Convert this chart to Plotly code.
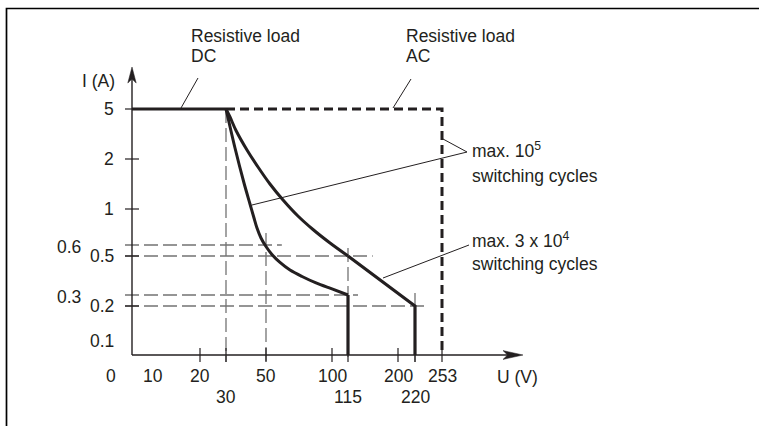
import numpy as np
import plotly.graph_objects as go

# ---------------- data (values in volts / amperes) ----------------
X_TICK_U = [20, 30, 50, 100, 115, 200, 220, 253]
X_LABEL_ROW1 = [10, 20, 50, 100, 200, 253]
X_LABEL_ROW2 = [30, 115, 220]
Y_TICK_I = [0.2, 0.5, 1, 2, 5]
Y_LABEL_MAIN = [0.1, 0.2, 0.5, 1, 2, 5]
Y_LABEL_SIDE = [0.3, 0.6]

DC_U = [0, 30]
DC_I = [5, 5]
AC_U = [30, 253, 253]
AC_I = [5, 5, 0]

# max. 10^5 switching cycles (inner curve)
C1_U = [30, 34.5, 39, 42, 44, 45.5, 47.5, 50, 54.5, 60.6, 68.2, 77.3, 87.9, 100, 115]
C1_I = [5, 2.66, 1.52, 1.1, 0.9, 0.789, 0.678, 0.586, 0.514, 0.467, 0.428, 0.395, 0.362, 0.331, 0.3]
C1_DROP_U = [115, 115]
C1_DROP_I = [0.3, 0]

# max. 3 x 10^4 switching cycles (outer curve)
C2_U = [30, 32, 35, 40.5, 46, 53, 62.9, 74.2, 85.6, 98.5, 115]
C2_I = [5, 4.52, 3.71, 2.54, 1.84, 1.5, 1.18, 0.922, 0.772, 0.622, 0.5]
C2_TAIL_U = [115, 220, 220]
C2_TAIL_I = [0.5, 0.2, 0]

# guide lines
GUIDE_H_I = [0.6, 0.5, 0.3, 0.2]
GUIDE_H_END_U = [62, 157, 132, 236]
GUIDE_V_U = [30, 50, 115, 220]
GUIDE_V_TOP_I = [5, 0.733, 0.573, 0.31]

# ---------------- schematic (non-linear) scale of the drawing ----------------
X_ANCHOR_U = [0, 10, 20, 30, 50, 100, 115, 200, 220, 253]
X_ANCHOR_PX = [132, 153, 200, 226, 266, 332, 348, 398, 415, 442]
Y_ANCHOR_I = [0, 0.1, 0.2, 0.3, 0.5, 0.6, 1, 2, 5]
Y_ANCHOR_PX = [355, 341, 306, 295, 256, 245, 209, 159, 109]


def sx(u):
    return np.interp(u, X_ANCHOR_U, X_ANCHOR_PX)


def sy(i):
    return np.interp(i, Y_ANCHOR_I, Y_ANCHOR_PX)


INK = "#231f20"
GRAY = "#737373"
FONT = dict(family="Liberation Sans, Arial, sans-serif", size=17.5, color=INK)
TICK = 7

fig = go.Figure()


def line(xs, ys, color=INK, width=1.2, dash=None, shape="linear"):
    fig.add_trace(go.Scatter(
        x=list(xs), y=list(ys), mode="lines",
        line=dict(color=color, width=width, dash=dash, shape=shape,
                  smoothing=0.9 if shape == "spline" else None),
        hoverinfo="skip", showlegend=False))


x0 = sx(0)
y0 = sy(0)

# frame
line([6.5, 6.5, 759], [426, 8.5, 8.5], color="black", width=1.7)

# guides
for i, ue in zip(GUIDE_H_I, GUIDE_H_END_U):
    line([x0 - TICK, sx(ue)], [sy(i), sy(i)], color=GRAY, width=1.3, dash="14px,5px")
for u, it in zip(GUIDE_V_U, GUIDE_V_TOP_I):
    line([sx(u), sx(u)], [sy(it), y0 + TICK], color=GRAY, width=1.3, dash="14px,5px")

# ticks
for u in X_TICK_U:
    line([sx(u), sx(u)], [y0 - TICK, y0 + TICK], width=1.2)
for i in Y_TICK_I:
    line([x0 - TICK, x0 + TICK], [sy(i), sy(i)], width=1.2)

# axes
line([x0, x0], [y0, 76], width=1.4)
line([x0, 512], [y0, y0], width=1.4)

# AC limit (dashed)
line(sx(AC_U), sy(AC_I), width=3, dash="9px,5px")
# DC limit
line(sx(DC_U), sy(DC_I), width=3.2)
# curves
line(sx(C1_U), sy(C1_I), width=3, shape="spline")
line(sx(C1_DROP_U), sy(C1_DROP_I), width=3.2)
line(sx(C2_U), sy(C2_I), width=3, shape="spline")
line(sx(C2_TAIL_U), sy(C2_TAIL_I), width=3.2)

# leader lines
line([198, 181], [78, 108], width=1)
line([411, 393], [79, 108], width=1)
line([252, 467, 443], [205, 152, 139], width=1)
line([469, 383], [245, 278], width=1)

shapes = [
    dict(type="path", path="M 132 67 L 127.8 83 L 132 79 L 136.2 83 Z",
         fillcolor=INK, line=dict(color=INK, width=0.5)),
    dict(type="path", path="M 523 355 L 503 350.6 L 507.5 355 L 503 359.4 Z",
         fillcolor=INK, line=dict(color=INK, width=0.5)),
]

ann = []


def text(x, y, s, anchor="center"):
    ann.append(dict(x=x, y=y, xref="x", yref="y", text=s, showarrow=False,
                    xanchor=anchor, yanchor="middle", font=FONT))


for u in X_LABEL_ROW1:
    text(sx(u), 376, str(u))
for u in X_LABEL_ROW2:
    text(sx(u), 397, str(u))
text(111, 376, "0")
for i in Y_LABEL_MAIN:
    text(116, sy(i), "%g" % i, anchor="right")
for i in Y_LABEL_SIDE:
    text(83, sy(i) + 1.5, "%g" % i, anchor="right")

text(117, 81, "I (A)", anchor="right")
text(495, 377, "U (V)", anchor="left")
text(189, 35.5, "Resistive load", anchor="left")
text(189, 56, "DC", anchor="left")
text(404, 35.5, "Resistive load", anchor="left")
text(404, 56, "AC", anchor="left")
text(470, 150, "max. 10<sup>5</sup>", anchor="left")
text(470, 176, "switching cycles", anchor="left")
text(470, 240, "max. 3 x 10<sup>4</sup>", anchor="left")
text(470, 264, "switching cycles", anchor="left")

fig.update_layout(
    width=759, height=426,
    margin=dict(l=0, r=0, t=0, b=0),
    paper_bgcolor="white", plot_bgcolor="white",
    xaxis=dict(range=[0, 759], visible=False, fixedrange=True),
    yaxis=dict(range=[426, 0], visible=False, fixedrange=True),
    shapes=shapes, annotations=ann, showlegend=False,
)

fig.write_html("out.html",
               config={"displayModeBar": False, "staticPlot": True},
               post_script="document.body.style.margin='0';document.body.style.overflow='hidden';")
